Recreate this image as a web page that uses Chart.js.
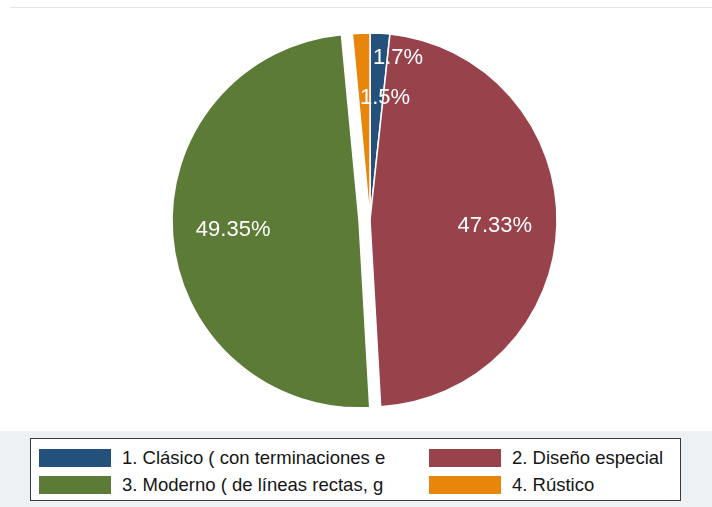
<!DOCTYPE html>
<html>
<head>
<meta charset="utf-8">
<script src="https://cdn.jsdelivr.net/npm/chart.js@4"></script>
<style>
  html, body { margin: 0; padding: 0; background: #fff; }
  #wrap { position: relative; width: 712px; height: 507px; overflow: hidden; font-family: "Liberation Sans", Arial, sans-serif; }
  #topline { position: absolute; left: 10px; right: 0; top: 7px; height: 1px; background: #e4e4e4; }
  #band { position: absolute; left: 0; right: 0; top: 431px; bottom: 0; background: #eef1f4; }
  #myChart { position: absolute; left: 0; top: 0; }
  #legend { position: absolute; left: 30px; top: 438px; width: 651px; height: 63px; box-sizing: border-box;
            border: 1px solid #3a3a3a; background: #fff; }
  .item { position: absolute; height: 18px; display: flex; align-items: center; }
  .swatch { width: 72px; height: 18px; margin-right: 11px; flex: none; }
  .text { font-size: 18.5px; color: #151515; white-space: nowrap; }
</style>
</head>
<body>
<div id="wrap">
  <div id="topline"></div>
  <div id="band"></div>
  <canvas id="myChart" width="712" height="507"></canvas>
  <div id="legend"></div>
</div>
<script>
const categories = [
  '1. Clásico ( con terminaciones e',
  '2. Diseño especial',
  '3. Moderno ( de líneas rectas, g',
  '4. Rústico'
]
const shares = [1.7, 47.33, 49.35, 1.5]
const sliceColors = ['#24517b', '#98424c', '#5b7b36', '#e8860c']

// legend box, two columns like the stata one
const legendEl = document.getElementById('legend')
const spots = [
  { left: 8, top: 10 },
  { left: 398, top: 10 },
  { left: 8, top: 37 },
  { left: 398, top: 37 },
]
categories.forEach((name, i) => {
  const item = document.createElement('div')
  item.className = 'item'
  item.style.left = spots[i].left + 'px'
  item.style.top = spots[i].top + 'px'
  item.innerHTML = '<div class="swatch" style="background:' + sliceColors[i] + '"></div>' +
    '<span class="text"></span>'
  item.querySelector('.text').textContent = name
  legendEl.appendChild(item)
})

// how far (px) a slice is pulled out from the centre
const pullOut = [0, 0, 11, 0]

const slideOf = (arc, i) => {
  const mid = (arc.startAngle + arc.endAngle) / 2
  const d = pullOut[i] || 0
  return { dx: Math.cos(mid) * d, dy: Math.sin(mid) * d }
}

// draw the arcs ourselves so an exploded slice is moved, not enlarged
const explodeSlices = {
  id: 'explodeSlices',
  beforeDatasetDraw(chart, args) {
    const ctx = chart.ctx
    args.meta.data.forEach((arc, i) => {
      const s = slideOf(arc, i)
      ctx.save()
      ctx.translate(s.dx, s.dy)
      arc.draw(ctx, chart.chartArea)
      ctx.restore()
    })
    return false
  },
}

// percentage labels inside the slices
const sliceLabels = {
  id: 'sliceLabels',
  afterDatasetsDraw(chart, args, opts) {
    const meta = chart.getDatasetMeta(0)
    const ctx = chart.ctx
    ctx.save()
    ctx.font = opts.font
    ctx.fillStyle = opts.color
    ctx.textAlign = 'center'
    ctx.textBaseline = 'middle'
    meta.data.forEach((arc, i) => {
      const s = slideOf(arc, i)
      const cx = arc.x + s.dx
      const cy = arc.y + s.dy
      let mid = (arc.startAngle + arc.endAngle) / 2
      const place = opts.placement[i] || {}
      if (place.angle !== undefined) mid = (place.angle * Math.PI) / 180 - Math.PI / 2
      const r = arc.outerRadius * (place.frac !== undefined ? place.frac : opts.frac)
      ctx.fillText(shares[i] + '%', cx + Math.cos(mid) * r, cy + Math.sin(mid) * r)
    })
    ctx.restore()
  },
}

const myChart = new Chart(document.getElementById('myChart'), {
  type: 'pie',
  data: {
    labels: categories,
    datasets: [
      {
        data: shares,
        backgroundColor: sliceColors,
        borderColor: '#ffffff',
        borderWidth: 1.5,
      },
    ],
  },
  options: {
    responsive: false,
    animation: false,
    radius: 187,
    layout: { padding: { left: 28, right: 0, top: 20, bottom: 87 } },
    plugins: {
      legend: { display: false },
      tooltip: { enabled: false },
      sliceLabels: {
        font: '22px "Liberation Sans", Arial, sans-serif',
        color: '#ffffff',
        frac: 0.675,
        placement: [
          { angle: 9.8, frac: 0.88 },
          { angle: 92.5, frac: 0.668 },
          null,
          { angle: 7, frac: 0.657 },
        ],
      },
    },
  },
  plugins: [explodeSlices, sliceLabels],
})
</script>
</body>
</html>
